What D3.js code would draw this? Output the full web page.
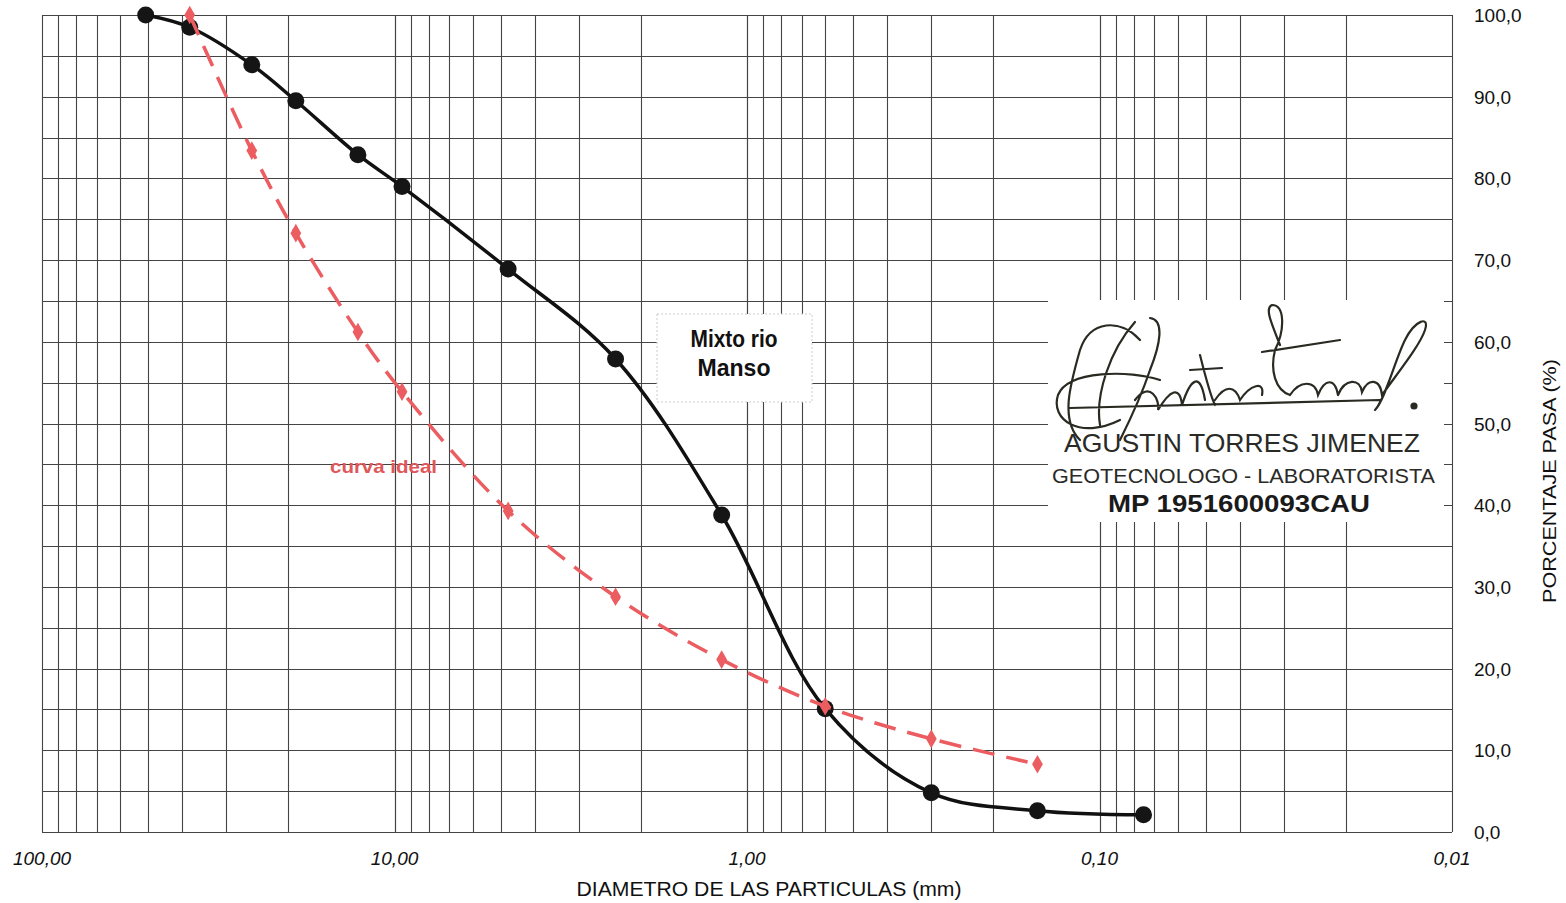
<!DOCTYPE html>
<html>
<head>
<meta charset="utf-8">
<script src="https://cdn.jsdelivr.net/npm/d3@7"></script>
<style>
  body { margin: 0; background: #fff; }
  svg { font-family: "Liberation Sans", Arial, sans-serif; }
</style>
</head>
<body>
<div class="chart"></div>
<script>
// sieve sizes (mm) and % passing
const sizes = [50.8, 38.1, 25.4, 19.05, 12.7, 9.52, 4.76, 2.36, 1.18, 0.6, 0.3, 0.15, 0.075];
const passing = [100.0, 98.5, 93.9, 89.5, 82.9, 79.0, 68.9, 57.9, 38.8, 15.1, 4.8, 2.6, 2.1];
const idealSizes = [38.1, 25.4, 19.05, 12.7, 9.52, 4.76, 2.36, 1.18, 0.6, 0.3, 0.15];
const idealPassing = [100.0, 83.4, 73.3, 61.2, 53.9, 39.3, 28.8, 21.1, 15.4, 11.4, 8.3];
const xTicks = [100, 10, 1, 0.1, 0.01];
const xTickLabels = ['100,00', '10,00', '1,00', '0,10', '0,01'];
const yTicks = [0, 10, 20, 30, 40, 50, 60, 70, 80, 90, 100];

const width = 1566, height = 903;
const margin = {left: 42, right: 114, top: 15, bottom: 71};

const svg = d3.select('.chart').append('svg')
  .attr('width', width).attr('height', height);

const x = d3.scaleLog().domain([100, 0.01]).range([margin.left, width - margin.right]);
const y = d3.scaleLinear().domain([0, 100]).range([height - margin.bottom, margin.top]);

// grid
const vGrid = [];
[0.01, 0.1, 1, 10].forEach(d => { for (let k = 1; k <= 10; k++) vGrid.push(d * k); });
const grid = svg.append('g').attr('stroke', '#444').attr('stroke-width', 1.1);
grid.selectAll('line.v').data(vGrid).join('line')
  .attr('x1', d => Math.round(x(d)) + 0.5).attr('x2', d => Math.round(x(d)) + 0.5)
  .attr('y1', y(0)).attr('y2', y(100));
grid.selectAll('line.h').data(d3.range(0, 101, 5)).join('line')
  .attr('y1', d => Math.round(y(d)) + 0.5).attr('y2', d => Math.round(y(d)) + 0.5)
  .attr('x1', x(100)).attr('x2', x(0.01));

// stamp box (white behind signature)
svg.append('rect')
  .attr('x', 1048).attr('y', 300).attr('width', 396).attr('height', 222)
  .attr('fill', '#fff');

// axes labels
svg.append('g').selectAll('text').data(xTicks).join('text')
  .attr('x', d => x(d)).attr('y', 865)
  .attr('text-anchor', 'middle')
  .attr('font-size', 19).attr('font-style', 'italic').attr('fill', '#111')
  .text((d, i) => xTickLabels[i]);

svg.append('g').selectAll('text').data(yTicks).join('text')
  .attr('x', 1474).attr('y', d => y(d) + 7)
  .attr('font-size', 19).attr('fill', '#111')
  .text(d => d3.format('.1f')(d).replace('.', ','));

svg.append('text')
  .attr('x', 769).attr('y', 896).attr('text-anchor', 'middle')
  .attr('font-size', 20).attr('fill', '#111')
  .attr('textLength', 385).attr('lengthAdjust', 'spacingAndGlyphs')
  .text('DIAMETRO DE LAS PARTICULAS (mm)');

svg.append('text')
  .attr('transform', 'translate(1556,481) rotate(-90)')
  .attr('text-anchor', 'middle').attr('font-size', 19).attr('fill', '#111')
  .attr('textLength', 244).attr('lengthAdjust', 'spacingAndGlyphs')
  .text('PORCENTAJE PASA (%)');

const line = d3.line().x(d => x(d[0])).y(d => y(d[1])).curve(d3.curveCatmullRom);

// sample curve
const sample = sizes.map((s, i) => [s, passing[i]]);
svg.append('path').datum(sample)
  .attr('d', line).attr('fill', 'none')
  .attr('stroke', '#111').attr('stroke-width', 3.5);
svg.append('g').selectAll('circle').data(sample).join('circle')
  .attr('cx', d => x(d[0])).attr('cy', d => y(d[1])).attr('r', 8.5)
  .attr('fill', '#151515');

// ideal curve
const ideal = idealSizes.map((s, i) => [s, idealPassing[i]]);
svg.append('path').datum(ideal)
  .attr('d', line).attr('fill', 'none')
  .attr('stroke', '#eb5d60').attr('stroke-width', 3.5)
  .attr('stroke-dasharray', '22,12');
svg.append('g').selectAll('path').data(ideal).join('path')
  .attr('d', d3.symbol(d3.symbolDiamond, 100))
  .attr('transform', d => `translate(${x(d[0])},${y(d[1])})`)
  .attr('fill', '#eb5d60');

// labels
svg.append('rect')
  .attr('x', 657).attr('y', 314).attr('width', 155).attr('height', 88)
  .attr('fill', '#fff').attr('stroke', '#ccc').attr('stroke-dasharray', '2,2');
const boxLines = [['Mixto rio', 87], ['Manso', 73]];
svg.append('text')
  .attr('text-anchor', 'middle').attr('font-size', 24).attr('font-weight', 'bold')
  .attr('fill', '#111')
  .selectAll('tspan').data(boxLines).join('tspan')
  .attr('x', 734).attr('y', (d, i) => 347 + i * 29)
  .attr('textLength', d => d[1]).attr('lengthAdjust', 'spacingAndGlyphs')
  .text(d => d[0]);

svg.append('text')
  .attr('x', 330).attr('y', 473)
  .attr('font-size', 19).attr('font-weight', 'bold').attr('fill', '#e0575a')
  .attr('textLength', 107).attr('lengthAdjust', 'spacingAndGlyphs')
  .text('curva ideal');

// signature (hand-drawn scribble)
const sig = svg.append('g').attr('fill', 'none').attr('stroke', '#2a2a22')
  .attr('stroke-width', 2.2).attr('stroke-linecap', 'round');
sig.append('path').attr('d',
  'M1140,340 C1120,318 1090,320 1080,350 C1070,385 1060,420 1080,440 ' +
  'M1120,420 C1080,440 1050,420 1058,395 C1068,370 1130,370 1160,380 ' +
  'M1135,322 C1110,350 1095,395 1100,425 M1150,318 C1165,320 1160,345 1150,370 C1140,400 1130,420 1120,440 ' +
  'M1135,400 C1150,380 1160,400 1158,410 C1170,390 1180,385 1182,405 C1190,380 1200,370 1205,400 ' +
  'M1200,355 C1205,375 1210,395 1215,405 M1190,370 L1222,368 ' +
  'M1215,400 C1225,385 1235,385 1240,400 C1250,385 1265,380 1262,395 ' +
  'M1280,345 C1270,320 1265,308 1272,305 C1285,305 1285,330 1275,350 C1270,370 1275,390 1290,395 ' +
  'M1262,352 L1340,340 M1290,395 C1300,380 1315,380 1318,395 C1325,378 1335,378 1338,395 ' +
  'M1338,395 C1345,378 1360,378 1362,392 C1368,378 1380,378 1382,395 C1400,370 1420,345 1425,330 ' +
  'C1430,315 1415,320 1405,340 C1395,360 1385,400 1375,410 ' +
  'M1070,408 L1380,400');
sig.append('circle').attr('cx', 1414).attr('cy', 406).attr('r', 2.5).attr('fill', '#2a2a22');

svg.append('text').attr('x', 1064).attr('y', 452)
  .attr('font-size', 25).attr('fill', '#2a2a26')
  .attr('textLength', 356).attr('lengthAdjust', 'spacingAndGlyphs')
  .text('AGUSTIN TORRES JIMENEZ');
svg.append('text').attr('x', 1052).attr('y', 483)
  .attr('font-size', 21).attr('fill', '#2a2a26')
  .attr('textLength', 383).attr('lengthAdjust', 'spacingAndGlyphs')
  .text('GEOTECNOLOGO - LABORATORISTA');
svg.append('text').attr('x', 1108).attr('y', 512)
  .attr('font-size', 24).attr('font-weight', 'bold').attr('fill', '#1a1a1a')
  .attr('textLength', 262).attr('lengthAdjust', 'spacingAndGlyphs')
  .text('MP 1951600093CAU');
</script>
</body>
</html>
